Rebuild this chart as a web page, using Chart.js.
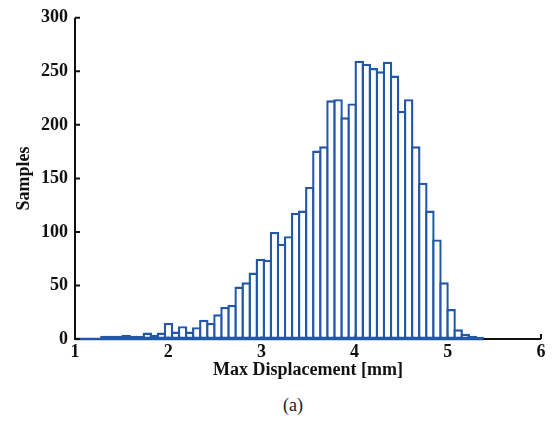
<!DOCTYPE html>
<html>
<head>
<meta charset="utf-8">
<script src="https://cdn.jsdelivr.net/npm/chart.js@4.4.0/dist/chart.umd.min.js"></script>
<style>
  html, body { margin: 0; padding: 0; background: #fff; }
  #wrap { position: relative; width: 553px; height: 426px; }
  #caption { position: absolute; left: 0; top: 395px; width: 586px; text-align: center;
             font: 18px 'Liberation Serif', serif; color: #222; }
</style>
</head>
<body>
<div id="wrap">
  <canvas id="histChart" width="553" height="390"></canvas>
  <div id="caption">(a)</div>
</div>
<script>
// Histogram bins (mm)
const binStart = 0.98;
const binWidth = 0.0758;
const counts = [
  0, 1, 1, 1, 3, 3, 3, 4, 3, 3,
  6, 4, 6, 15, 7, 12, 7, 11, 18, 15,
  23, 30, 32, 49, 53, 62, 75, 74, 100, 89,
  96, 118, 120, 142, 176, 180, 223, 224, 207, 220,
  260, 257, 253, 250, 259, 246, 213, 224, 180, 146,
  120, 93, 53, 28, 9, 5, 3, 2
];
const xTicks = [1, 2, 3, 4, 5, 6];
const yTicks = [0, 50, 100, 150, 200, 250, 300];

const barBlue = '#2358a8';
const barLine = 2.4;
const axisFont = { family: 'Liberation Serif', size: 18, weight: 'bold' };

// axes drawn like a MATLAB plot: no box, ticks pointing inwards
const axesPlugin = {
  id: 'inwardAxes',
  beforeDatasetsDraw(chart) {
    const { ctx, chartArea: a, scales: { x } } = chart;
    ctx.save();
    ctx.strokeStyle = '#111';
    ctx.lineWidth = 2;
    ctx.beginPath();
    ctx.moveTo(a.left, a.bottom);
    ctx.lineTo(a.right, a.bottom);
    x.ticks.forEach(t => {
      const px = x.getPixelForValue(t.value);
      ctx.moveTo(px, a.bottom);
      ctx.lineTo(px, a.bottom - 5);
    });
    ctx.stroke();
    // bottom outline of the histogram, including empty bins
    const x0 = Math.max(a.left, x.getPixelForValue(binStart));
    const x1 = x.getPixelForValue(binStart + binWidth * counts.length);
    ctx.strokeStyle = barBlue;
    ctx.lineWidth = barLine;
    ctx.beginPath();
    ctx.moveTo(x0, a.bottom);
    ctx.lineTo(x1, a.bottom);
    ctx.stroke();
    ctx.restore();
  },
  afterDatasetsDraw(chart) {
    const { ctx, chartArea: a, scales: { y } } = chart;
    ctx.save();
    ctx.strokeStyle = '#111';
    ctx.lineWidth = 2;
    ctx.beginPath();
    ctx.moveTo(a.left, a.top);
    ctx.lineTo(a.left, a.bottom + 1);
    y.ticks.forEach(t => {
      const py = y.getPixelForValue(t.value);
      ctx.moveTo(a.left, py);
      ctx.lineTo(a.left + 5, py);
    });
    ctx.stroke();
    ctx.restore();
  }
};

const ctx = document.getElementById('histChart').getContext('2d');
const histChart = new Chart(ctx, {
  type: 'bar',
  data: {
    datasets: [{
      label: 'Samples',
      data: counts.map((c, i) => ({ x: binStart + binWidth * (i + 0.5), y: c })),
      backgroundColor: '#ffffff',
      borderColor: barBlue,
      borderWidth: barLine,
      borderSkipped: false,
      inflateAmount: 0,
      categoryPercentage: 1,
      barPercentage: 1.34
    }]
  },
  options: {
    responsive: false,
    animation: false,
    layout: { padding: { top: 13, right: 12, bottom: 0, left: 0 } },
    plugins: {
      legend: { display: false },
      tooltip: { enabled: false }
    },
    scales: {
      x: {
        type: 'linear',
        min: 1,
        max: 6,
        offset: false,
        afterBuildTicks: s => { s.ticks = xTicks.map(v => ({ value: v })); },
        afterFit: s => { s.height = 51; },
        grid: { display: false, drawTicks: false, offset: false },
        border: { display: false },
        ticks: { color: '#111', font: axisFont, padding: 3, maxRotation: 0 },
        title: {
          display: true,
          text: 'Max Displacement [mm]',
          color: '#111',
          font: { family: 'Liberation Serif', size: 18, weight: 'bold' },
          padding: { top: 0, bottom: 9 }
        }
      },
      y: {
        min: 0,
        max: 300,
        afterBuildTicks: s => { s.ticks = yTicks.map(v => ({ value: v })); },
        afterFit: s => { s.width = 75; },
        grid: { display: false, drawTicks: false },
        border: { display: false },
        ticks: { color: '#111', font: axisFont, padding: 7 },
        title: {
          display: true,
          text: 'Samples',
          color: '#111',
          font: { family: 'Liberation Serif', size: 18, weight: 'bold' },
          padding: { top: 14, bottom: 0 }
        }
      }
    }
  },
  plugins: [axesPlugin]
});
</script>
</body>
</html>
